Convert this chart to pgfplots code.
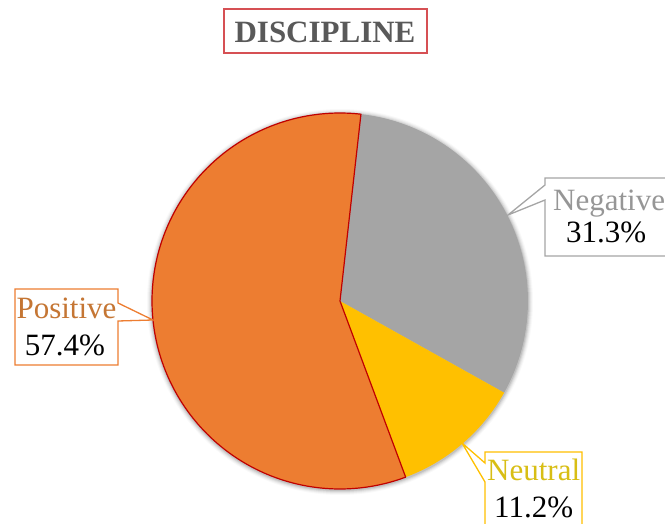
\documentclass[border=0pt]{standalone}
\usepackage{pgfplots}
\pgfplotsset{compat=1.18}
\usepackage{pgfplotstable}
\usepackage{fontspec}
\setmainfont{Liberation Serif}
\definecolor{cOrange}{RGB}{237,125,49}
\definecolor{cGray}{RGB}{165,165,165}
\definecolor{cYellow}{RGB}{255,192,0}
\definecolor{cDarkRed}{RGB}{192,0,0}
\definecolor{cTitle}{RGB}{89,89,89}
\definecolor{cTitleBox}{RGB}{214,80,84}
\definecolor{cPosText}{RGB}{197,118,52}
\definecolor{cNeuText}{RGB}{216,190,20}
\definecolor{cNegText}{RGB}{150,150,150}

\pgfplotstableread{
label value
Negative 31.3
Neutral 11.2
Positive 57.4
}\piedata

\begin{document}
\begin{tikzpicture}[x=1pt,y=1pt]
\path[use as bounding box] (0,0) rectangle (665,523);
% soft shadow
\foreach \r/\o in {193/0.025,192/0.035,191/0.05,190/0.07,189/0.09}{
  \fill[black, opacity=\o] (340,221) circle (\r);
}
\pgfplotstablegetelem{0}{value}\of\piedata \let\vNeg\pgfplotsretval
\pgfplotstablegetelem{1}{value}\of\piedata \let\vNeu\pgfplotsretval
\pgfplotstablegetelem{2}{value}\of\piedata \let\vPos\pgfplotsretval
\pgfmathsetmacro\total{\vNeg+\vNeu+\vPos}
\pgfmathsetmacro\aA{83.6}
\pgfmathsetmacro\aB{\aA-360*\vNeg/\total}
\pgfmathsetmacro\aC{\aB-360*\vNeu/\total}
\pgfmathsetmacro\aD{\aA-360}
\begin{axis}[hide axis, scale only axis, width=376pt, height=376pt,
  xmin=-1, xmax=1, ymin=-1, ymax=1, at={(152pt,34pt)}, anchor=south west, clip=false]
\addplot[draw=none, fill=cGray, domain=\aB:\aA, samples=80] ({cos(x)},{sin(x)}) -- (axis cs:0,0) -- cycle;
\addplot[draw=none, fill=cYellow, domain=\aC:\aB, samples=40] ({cos(x)},{sin(x)}) -- (axis cs:0,0) -- cycle;
\addplot[draw=cDarkRed, line width=1.2pt, line join=round, fill=cOrange, domain=\aD:\aC, samples=150] ({cos(x)},{sin(x)}) -- (axis cs:0,0) -- cycle;
\end{axis}
% title
\draw[cTitleBox, line width=1.2pt] (224,514) rectangle (427,470);
\node[anchor=base, inner sep=0, text=cTitle, font=\fontsize{31}{36}\selectfont\bfseries] at (325,480) {DISCIPLINE};
% callouts
\draw[cOrange, line width=1.3pt, fill=white, line join=miter] (15,234) -- (118,234) -- (118,220) -- (153,203) -- (118,202) -- (118,158) -- (15,158) -- cycle;
\draw[cGray, line width=1.3pt, fill=white] (545,345) -- (680,345) -- (680,267) -- (545,267) -- (545,323) -- (508,308) -- (545,338) -- cycle;
\draw[cYellow, line width=1.3pt, fill=white] (485,71) -- (582,71) -- (582,-20) -- (485,-20) -- (485,41) -- (462,80) -- (485,60) -- cycle;
\begin{scope}[every node/.style={inner sep=0, font=\fontsize{31}{36}\selectfont}]
\node[anchor=base, text=cPosText] at (66.5,204) {Positive};
\node[anchor=base] at (65,167) {57.4\%};
\node[anchor=base west, text=cNegText] at (553,312) {Negative};
\node[anchor=base west] at (566,280) {31.3\%};
\node[anchor=base west, text=cNeuText] at (487,42) {Neutral};
\node[anchor=base west] at (494,6) {11.2\%};
\end{scope}
\end{tikzpicture}
\end{document}
